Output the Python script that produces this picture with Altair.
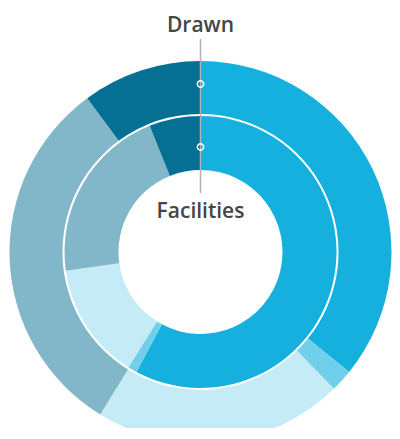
import altair as alt
import pandas as pd

categories = ["Segment A", "Segment B", "Segment C", "Segment D", "Segment E"]
colors = ["#15b0de", "#70cfea", "#c5ebf6", "#82b7ca", "#056f94"]
drawn_values = [35.8, 1.9, 21.1, 31.1, 10.1]
facilities_values = [57.8, 1.1, 13.9, 21.1, 6.1]
ring_labels = ["Drawn", "Facilities"]

outer = pd.DataFrame({"category": categories, "value": drawn_values, "idx": range(5)})
inner = pd.DataFrame({"category": categories, "value": facilities_values, "idx": range(5)})

CX, CY = 192.5, 244
color = alt.Color("category:N", scale=alt.Scale(domain=categories, range=colors), legend=None)

outer_arc = alt.Chart(outer).mark_arc(innerRadius=138, outerRadius=191, strokeWidth=0).encode(
    theta=alt.Theta("value:Q", stack=True),
    order=alt.Order("idx:O"),
    color=color,
    x=alt.value(CX), y=alt.value(CY),
)
inner_arc = alt.Chart(inner).mark_arc(innerRadius=82, outerRadius=136, strokeWidth=0).encode(
    theta=alt.Theta("value:Q", stack=True),
    order=alt.Order("idx:O"),
    color=color,
    x=alt.value(CX), y=alt.value(CY),
)

line = alt.Chart(pd.DataFrame({"a": [0]})).mark_rule(color="#b3b3b3", strokeWidth=1.5).encode(
    x=alt.value(CX), y=alt.value(31), y2=alt.value(185)
)

markers = alt.Chart(pd.DataFrame({"py": [76, 139]})).mark_point(
    shape="circle", size=40, filled=False, color="white", strokeWidth=1.5, opacity=1
).encode(x=alt.value(CX), y=alt.Y("py:Q", scale=None))

labels = alt.Chart(pd.DataFrame({"label": ring_labels, "py": [24, 210]})).mark_text(
    font="Open Sans", fontSize=21, fontWeight=600, color="#454545", align="center", baseline="alphabetic"
).encode(x=alt.value(CX), y=alt.Y("py:Q", scale=None), text="label:N")

chart = alt.layer(outer_arc, inner_arc, line, markers, labels).resolve_scale(theta="independent").properties(
    width=384, height=420, padding=0, autosize=alt.AutoSizeParams(type="none")
).configure_view(stroke=None)

chart.save("out.html", embed_options={"renderer": "svg", "actions": False})
